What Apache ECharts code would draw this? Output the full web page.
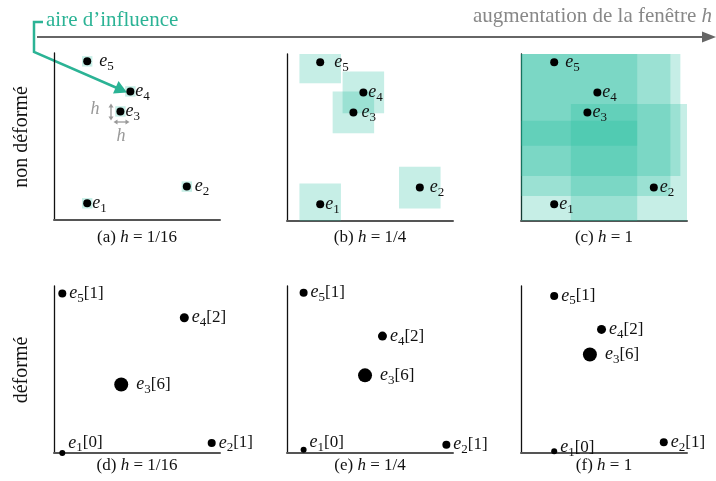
<!DOCTYPE html>
<html>
<head>
<meta charset="utf-8">
<script src="https://cdn.jsdelivr.net/npm/echarts@6/dist/echarts.min.js"></script>
<style>
  html, body { margin: 0; padding: 0; background: #fff; }
  #chart { width: 716px; height: 481px; }
</style>
</head>
<body>
<div id="chart"></div>
<script>
// points e1..e5, coordonnees normalisees [0,1]
var pointIds = ['1', '2', '3', '4', '5'];
var undeformed = [[0.2, 0.1], [0.8, 0.2], [0.4, 0.65], [0.46, 0.77], [0.2, 0.95]];
var windowSizes = [1 / 16, 1 / 4, 1];
var windowLabels = ['1/16', '1/4', '1'];
var deformed16 = [[0.05, 0.0], [0.95, 0.06], [0.405, 0.41], [0.785, 0.81], [0.05, 0.955]];
var deformed4 = [[0.1, 0.02], [0.96, 0.05], [0.47, 0.465], [0.575, 0.70], [0.1, 0.96]];
var deformed1 = [[0.2, 0.01], [0.86, 0.065], [0.415, 0.59], [0.485, 0.74], [0.2, 0.94]];
var weights = [0, 1, 6, 2, 1];
var panelNames = ['a', 'b', 'c', 'd', 'e', 'f'];

var FONT = 'Liberation Serif';
var TEAL = '#2bb395';
var fill = 'rgba(26,188,156,0.25)';

var gridPos = [
  { left: 54, top: 53 }, { left: 287, top: 54 }, { left: 521, top: 54 },
  { left: 54, top: 286 }, { left: 287, top: 286 }, { left: 521, top: 286 }
];
// ecart point / etiquette, ligne du haut
var topLabelGap = [
  [1, 4, 1, 1, 8],
  [1, 6, 4, 1, 10],
  [1, 2, 1, 1, 7]
];

var grids = [], xAxes = [], yAxes = [], series = [], graphics = [];

var labelRich = {
  e: { fontFamily: FONT, fontStyle: 'italic', fontSize: 18, color: '#111' },
  s: { fontFamily: FONT, fontSize: 13, color: '#111', padding: [10, 0, 0, 0] },
  b: { fontFamily: FONT, fontSize: 17, color: '#111' }
};

function sizeOf(w) {
  return [6, 8, 9, 10, 11, 12, 14][w];
}

gridPos.forEach(function (g, i) {
  grids.push({ left: g.left, top: g.top, width: 166, height: 167 });
  xAxes.push({
    gridIndex: i, type: 'value', min: 0, max: 1,
    axisLine: { show: true, lineStyle: { color: '#555', width: 2 } },
    axisTick: { show: false }, axisLabel: { show: false }, splitLine: { show: false }
  });
  yAxes.push({
    gridIndex: i, type: 'value', min: 0, max: 1,
    axisLine: { show: true, lineStyle: { color: '#111', width: 1.3 } },
    axisTick: { show: false }, axisLabel: { show: false }, splitLine: { show: false }
  });
});

// ligne du haut : aires d'influence
windowSizes.forEach(function (h, i) {
  series.push({
    type: 'custom',
    xAxisIndex: i, yAxisIndex: i,
    silent: true,
    z: 1,
    data: undeformed.map(function (p) { return [p[0], p[1], h]; }),
    renderItem: function (params, api) {
      var x = api.value(0), y = api.value(1), s = api.value(2) / 2;
      var p0 = api.coord([Math.max(0, x - s), Math.min(1, y + s)]);
      var p1 = api.coord([Math.min(1, x + s), Math.max(0, y - s)]);
      return {
        type: 'rect',
        shape: { x: p0[0], y: p0[1], width: p1[0] - p0[0], height: p1[1] - p0[1] },
        style: { fill: fill }
      };
    }
  });
  series.push({
    type: 'scatter',
    xAxisIndex: i, yAxisIndex: i,
    z: 3,
    symbolSize: 8,
    itemStyle: { color: '#000', opacity: 1 },
    data: undeformed.map(function (p, k) {
      return {
        value: p,
        label: {
          show: true, position: 'right', distance: topLabelGap[i][k],
          formatter: '{e|e}{s|' + pointIds[k] + '}', rich: labelRich
        }
      };
    })
  });
});

// ligne du bas : points deformes avec poids
[deformed16, deformed4, deformed1].forEach(function (pts, j) {
  var e1Off = [-10, -7, -4][j];
  series.push({
    type: 'scatter',
    xAxisIndex: j + 3, yAxisIndex: j + 3,
    z: 3,
    itemStyle: { color: '#000', opacity: 1 },
    data: pts.map(function (p, k) {
      return {
        value: p,
        symbolSize: sizeOf(weights[k]),
        label: {
          show: true, position: 'right', distance: k === 2 ? 8 : 3,
          offset: k === 0 ? [0, e1Off] : [0, 0],
          formatter: '{e|e}{s|' + pointIds[k] + '}{b|[' + weights[k] + ']}', rich: labelRich
        }
      };
    })
  });
});

// legendes (a)..(f)
var capRich = {
  n: { fontFamily: FONT, fontSize: 17, fill: '#111' },
  i: { fontFamily: FONT, fontSize: 17, fontStyle: 'italic', fill: '#111' }
};
gridPos.forEach(function (g, i) {
  graphics.push({
    type: 'text',
    x: g.left + 83, y: i < 3 ? 238 : 466,
    style: {
      text: '{n|(' + panelNames[i] + ') }{i|h}{n| = ' + windowLabels[i % 3] + '}',
      rich: capRich, align: 'center', verticalAlign: 'middle'
    }
  });
});

// titres des lignes
graphics.push({
  type: 'text', x: 22, y: 137, rotation: Math.PI / 2,
  style: { text: 'non déformé', font: '20px ' + FONT, fill: '#111', align: 'center', verticalAlign: 'middle' }
});
graphics.push({
  type: 'text', x: 22, y: 370, rotation: Math.PI / 2,
  style: { text: 'déformé', font: '20px ' + FONT, fill: '#111', align: 'center', verticalAlign: 'middle' }
});

// fleche du haut
graphics.push({
  type: 'line', shape: { x1: 37, y1: 37, x2: 704, y2: 37 },
  style: { stroke: '#666', lineWidth: 2 }
});
graphics.push({
  type: 'polygon', shape: { points: [[716, 37], [702, 31.5], [702, 42.5]] },
  style: { fill: '#666' }
});
graphics.push({
  type: 'text', x: 712, y: 16,
  style: {
    text: '{n|augmentation de la fenêtre }{i|h}',
    rich: {
      n: { fontFamily: FONT, fontSize: 21, fill: '#888' },
      i: { fontFamily: FONT, fontSize: 21, fontStyle: 'italic', fill: '#888' }
    },
    align: 'right', verticalAlign: 'middle'
  }
});

// aire d'influence
graphics.push({
  type: 'text', x: 46, y: 20,
  style: { text: 'aire d\u2019influence', font: '21px ' + FONT, fill: TEAL, align: 'left', verticalAlign: 'middle' }
});
graphics.push({
  type: 'polyline', shape: { points: [[43, 22], [34, 22], [34, 52], [117, 88]] },
  style: { stroke: TEAL, lineWidth: 2.5, fill: null }
});
graphics.push({
  type: 'polygon', shape: { points: [[127, 92.5], [113, 93.5], [118.5, 81]] },
  style: { fill: TEAL }
});

// annotation h
var GRAY = '#999';
graphics.push({
  type: 'text', x: 95, y: 109,
  style: { text: 'h', font: 'italic 18px ' + FONT, fill: GRAY, align: 'center', verticalAlign: 'middle' }
});
graphics.push({
  type: 'text', x: 121, y: 136,
  style: { text: 'h', font: 'italic 18px ' + FONT, fill: GRAY, align: 'center', verticalAlign: 'middle' }
});
graphics.push({ type: 'line', shape: { x1: 111, y1: 106, x2: 111, y2: 118 }, style: { stroke: GRAY, lineWidth: 1.3 } });
graphics.push({ type: 'polygon', shape: { points: [[111, 103.5], [108.5, 107.5], [113.5, 107.5]] }, style: { fill: GRAY } });
graphics.push({ type: 'polygon', shape: { points: [[111, 120.5], [108.5, 116.5], [113.5, 116.5]] }, style: { fill: GRAY } });
graphics.push({ type: 'line', shape: { x1: 116, y1: 122, x2: 127, y2: 122 }, style: { stroke: GRAY, lineWidth: 1.3 } });
graphics.push({ type: 'polygon', shape: { points: [[113.5, 122], [117.5, 119.5], [117.5, 124.5]] }, style: { fill: GRAY } });
graphics.push({ type: 'polygon', shape: { points: [[129.5, 122], [125.5, 119.5], [125.5, 124.5]] }, style: { fill: GRAY } });

var chart = echarts.init(document.getElementById('chart'), null, { renderer: 'canvas' });
chart.setOption({
  animation: false,
  backgroundColor: '#fff',
  grid: grids,
  xAxis: xAxes,
  yAxis: yAxes,
  series: series,
  graphic: graphics
});
</script>
</body>
</html>
